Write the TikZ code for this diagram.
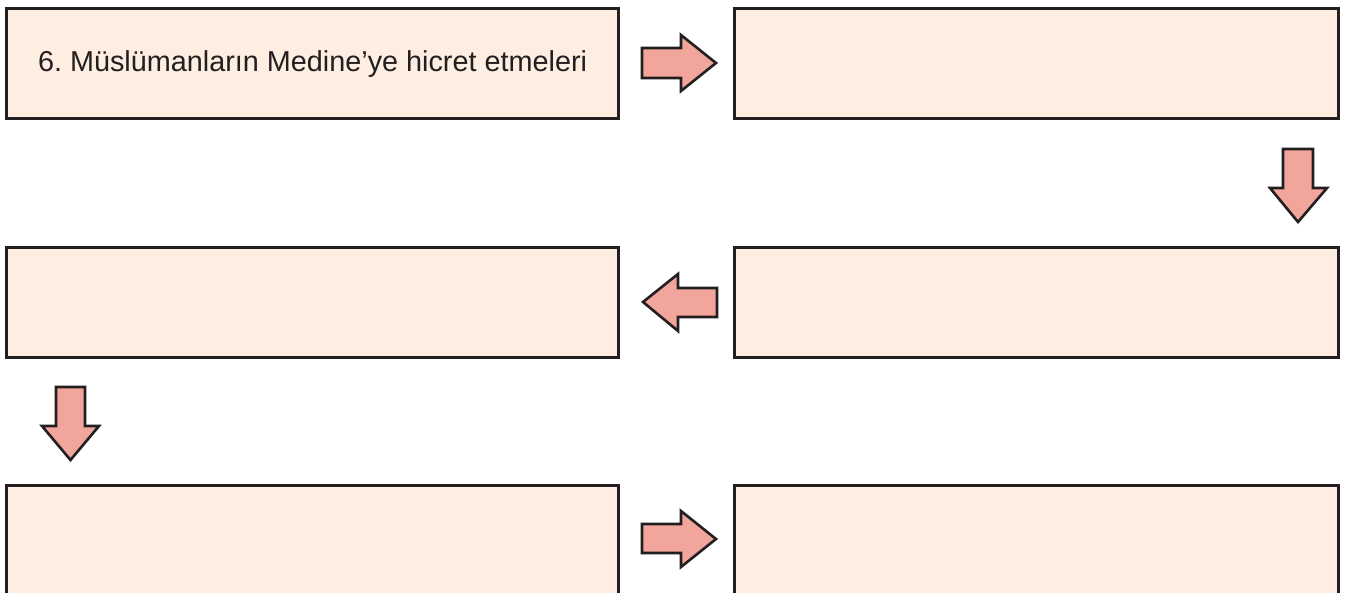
\documentclass[tikz,border=0pt]{standalone}
\usepackage{fontspec}
\setmainfont{Liberation Sans}
\definecolor{boxfill}{HTML}{FDEEE1}
\definecolor{arrfill}{HTML}{F2A59B}
\definecolor{ink}{HTML}{231F20}
\begin{document}
\frenchspacing
\begin{tikzpicture}[x=1pt,y=-1pt,
  stepbox/.style={draw=ink,fill=boxfill,line width=3.2pt,rectangle,inner sep=0pt,
    minimum width=612pt,anchor=north west,text=ink,font=\fontsize{28.8}{32}\selectfont},
  blockarrow/.style={draw=ink,fill=arrfill,line width=2.6pt,line join=miter}]
\clip (0,0) rectangle (1347,593);
\fill[white] (0,0) rectangle (1347,593);
\node[stepbox,minimum height=110pt] (b1) at (5,7) {6. Müslümanların Medine’ye hicret etmeleri};
\node[stepbox,minimum height=110pt,minimum width=604pt] (b2) at (733,7) {};
\node[stepbox,minimum height=110pt] (b3) at (5,246) {};
\node[stepbox,minimum height=110pt,minimum width=604pt] (b4) at (733,246) {};
\node[stepbox,minimum height=140pt] (b5) at (5,484) {};
\node[stepbox,minimum height=140pt,minimum width=604pt] (b6) at (733,484) {};
% arrow b1 -> b2
\draw[blockarrow] (642,48) -- (681,48) -- (681,35) -- (716,63) -- (681,91) -- (681,78) -- (642,78) -- cycle;
% arrow b2 -> b4
\draw[blockarrow] (1283,149) -- (1313,149) -- (1313,188) -- (1327,188) -- (1298,222) -- (1270,188) -- (1283,188) -- cycle;
% arrow b4 -> b3
\draw[blockarrow] (717,288) -- (678,288) -- (678,274) -- (643,302) -- (678,331) -- (678,317) -- (717,317) -- cycle;
% arrow b3 -> b5
\draw[blockarrow] (56,387) -- (85,387) -- (85,426) -- (99,426) -- (70.5,460) -- (42,426) -- (56,426) -- cycle;
% arrow b5 -> b6
\draw[blockarrow] (642,524) -- (681,524) -- (681,511) -- (716,539) -- (681,567) -- (681,553) -- (642,553) -- cycle;
\end{tikzpicture}
\end{document}
